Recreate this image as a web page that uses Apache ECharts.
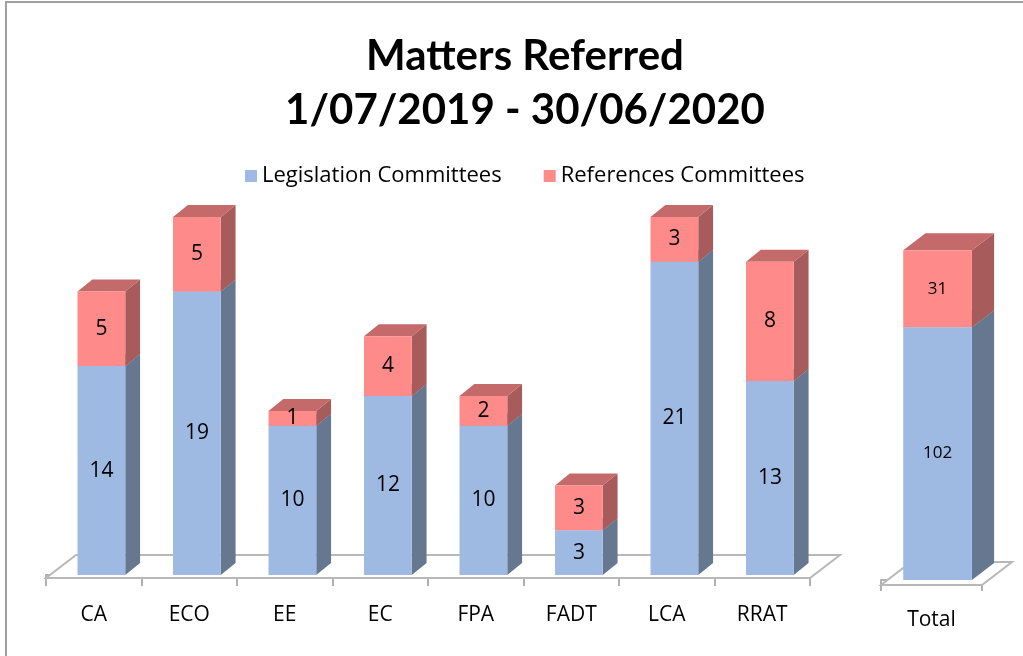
<!DOCTYPE html>
<html>
<head>
<meta charset="utf-8">
<script src="https://cdn.jsdelivr.net/npm/echarts@6/dist/echarts.min.js"></script>
<style>
  html, body { margin: 0; padding: 0; background: #fff; }
  #chart { width: 1023px; height: 656px; }
</style>
</head>
<body>
<div id="chart"></div>
<script>
// categories and values
var categories = ['CA', 'ECO', 'EE', 'EC', 'FPA', 'FADT', 'LCA', 'RRAT'];
var legislation = [14, 19, 10, 12, 10, 3, 21, 13];
var references = [5, 5, 1, 4, 2, 3, 3, 8];
var totalCategory = ['Total'];
var totalLegislation = [102];
var totalReferences = [31];

var TITLE_FONT = 'Lato, "Open Sans", sans-serif';
var FONT = '"Open Sans", Lato, sans-serif';
var BLUE = { front: '#9fbae2', side: '#65788f', top: '#7f93b0' };
var RED = { front: '#ff8a8a', side: '#a75b5b', top: '#c46a6a' };

// builds rows [catIndex, bottom, top, value]
function stackRows(values, below) {
    var rows = [];
    for (var i = 0; i < values.length; i++) {
        var b = below ? below[i] : 0;
        rows.push([i, b, b + values[i], values[i]]);
    }
    return rows;
}

// 3d-ish bar: front face, right side, top
function barRenderer(colors, cfg) {
    return function (params, api) {
        var cat = api.value(0);
        var bot = api.coord([cat, api.value(1)]);
        var top = api.coord([cat, api.value(2)]);
        var band = api.size([1, 0])[0];
        var fw = band * cfg.width;
        var dx = band * cfg.depth;
        var dy = cfg.dy;
        var cx = bot[0] + band * cfg.shift;
        var L = cx - fw / 2, R = cx + fw / 2;
        var yB = bot[1], yT = top[1];
        return {
            type: 'group',
            children: [
                { type: 'polygon', shape: { points: [[R, yB], [R + dx, yB - dy], [R + dx, yT - dy], [R, yT]] },
                  style: { fill: colors.side } },
                { type: 'polygon', shape: { points: [[L, yT], [R, yT], [R + dx, yT - dy], [L + dx, yT - dy]] },
                  style: { fill: colors.top } },
                { type: 'rect', shape: { x: L, y: yT, width: fw, height: yB - yT },
                  style: { fill: colors.front } },
                { type: 'text', x: cx, y: (yB + yT) / 2,
                  style: { text: String(api.value(3)), fill: '#000', font: cfg.font,
                           align: 'center', verticalAlign: 'middle' } }
            ]
        };
    };
}

// floor under the bars, from the grid rectangle
function floorRenderer(cfg) {
    return function (params, api) {
        var cs = params.coordSys;
        var y = cs.y + cs.height + cfg.drop;
        var x0 = cs.x, x1 = cs.x + cs.width;
        return {
            type: 'polygon',
            shape: { points: [[x0, y], [x1, y], [x1 + cfg.dx, y - cfg.dy], [x0 + cfg.dx, y - cfg.dy]] },
            style: { fill: '#fff', stroke: '#b8b8b8', lineWidth: 2 },
            silent: true
        };
    };
}

var myChart = echarts.init(document.getElementById('chart'));

var leftCfg = { width: 0.5, depth: 0.155, dy: 12, shift: 0.08, font: '21px ' + FONT };
var totalCfg = { width: 0.68, depth: 0.22, dy: 17, shift: 0.06, font: '17px ' + FONT };

function axisX(data, gridIndex, offset, margin) {
    return {
        type: 'category', gridIndex: gridIndex, data: data, offset: offset,
        axisLine: { lineStyle: { color: '#b0b0b0', width: 2 } },
        axisTick: { show: true, length: 11, lineStyle: { color: '#b0b0b0', width: 2 } },
        axisLabel: { color: '#000', fontSize: 21, fontFamily: FONT, margin: margin },
        splitLine: { show: false }
    };
}

var option = {
    backgroundColor: '#fff',
    animation: false,
    title: {
        text: 'Matters Referred\n1/07/2019 - 30/06/2020',
        left: 520, top: 24, textAlign: 'center',
        textStyle: { fontSize: 42, fontWeight: 'bold', fontFamily: TITLE_FONT, color: '#000', lineHeight: 54 }
    },
    legend: {
        data: ['Legislation Committees', 'References Committees'],
        top: 160, left: 240,
        icon: 'rect', itemWidth: 12, itemHeight: 12, itemGap: 42,
        textStyle: { fontSize: 22, fontFamily: FONT, color: '#000' }
    },
    graphic: [{
        type: 'rect', shape: { x: 6, y: 2, width: 1030, height: 670 },
        style: { fill: 'none', stroke: '#a0a0a0', lineWidth: 2 }, silent: true, z: -10
    }],
    grid: [
        { left: 46, right: 213, top: 202, bottom: 81 },
        { left: 881, width: 101, top: 233, bottom: 76 }
    ],
    xAxis: [
        axisX(categories, 0, 3, 27),
        axisX(totalCategory, 1, 5, 25)
    ],
    yAxis: [
        { type: 'value', gridIndex: 0, min: 0, max: 25, show: false, splitLine: { show: false } },
        { type: 'value', gridIndex: 1, min: 0, max: 140, show: false, splitLine: { show: false } }
    ],
    series: [
        { type: 'custom', name: 'floor', xAxisIndex: 0, yAxisIndex: 0, data: [[0, 0]],
          renderItem: floorRenderer({ drop: 3, dx: 30, dy: 23 }), z: 1 },
        { type: 'custom', name: 'floorTotal', xAxisIndex: 1, yAxisIndex: 1, data: [[0, 0]],
          renderItem: floorRenderer({ drop: 5, dx: 30, dy: 23 }), z: 1 },
        { type: 'custom', name: 'Legislation Committees', xAxisIndex: 0, yAxisIndex: 0,
          itemStyle: { color: BLUE.front }, encode: { x: 0, y: 2 },
          data: stackRows(legislation), renderItem: barRenderer(BLUE, leftCfg), z: 2 },
        { type: 'custom', name: 'References Committees', xAxisIndex: 0, yAxisIndex: 0,
          itemStyle: { color: RED.front }, encode: { x: 0, y: 2 },
          data: stackRows(references, legislation), renderItem: barRenderer(RED, leftCfg), z: 3 },
        { type: 'custom', name: 'Legislation Committees', xAxisIndex: 1, yAxisIndex: 1,
          itemStyle: { color: BLUE.front }, encode: { x: 0, y: 2 },
          data: stackRows(totalLegislation), renderItem: barRenderer(BLUE, totalCfg), z: 2 },
        { type: 'custom', name: 'References Committees', xAxisIndex: 1, yAxisIndex: 1,
          itemStyle: { color: RED.front }, encode: { x: 0, y: 2 },
          data: stackRows(totalReferences, totalLegislation), renderItem: barRenderer(RED, totalCfg), z: 3 }
    ]
};
myChart.setOption(option);
</script>
</body>
</html>
